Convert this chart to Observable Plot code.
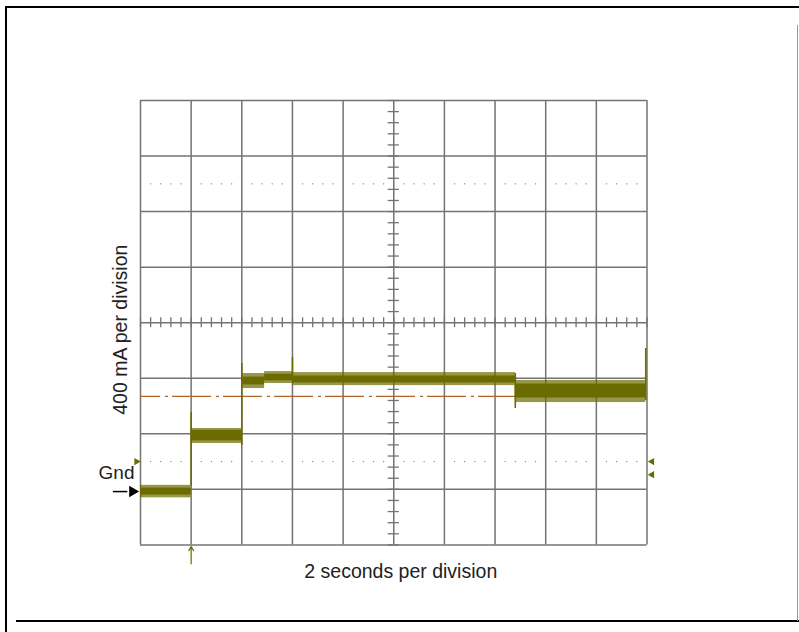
<!DOCTYPE html>
<html><head><meta charset="utf-8">
<script src="https://cdn.jsdelivr.net/npm/d3@7"></script>
<script src="https://cdn.jsdelivr.net/npm/@observablehq/plot@0.6"></script>
<style>
html,body{margin:0;padding:0;background:#fff;}
#wrap{position:relative;width:799px;height:632px;overflow:hidden;}
#wrap svg{position:absolute;left:0;top:0;}
.ln{position:absolute;}
</style></head><body>
<div id="wrap">
 <div class="ln" style="left:5px;top:6px;width:794px;height:2px;background:#000"></div>
 <div class="ln" style="left:5px;top:6px;width:2px;height:626px;background:#000"></div>
 <div class="ln" style="left:16px;top:620px;width:783px;height:2px;background:#000"></div>
 <div class="ln" style="left:797px;top:25px;width:1px;height:596px;background:#999"></div>
</div>
<script>
// ---- data (current in mA, time in s) ----
const segStart = [0, 2, 4, 4.9, 6, 14.8];
const segEnd   = [2, 4, 4.9, 6, 14.8, 19.95];
const coreLo   = [-25, 365, 768, 797, 782, 674];
const coreHi   = [25, 441, 824, 845, 832, 774];
const envLo    = [-45, 346, 742, 778, 763, 641];
const envHi    = [45, 454, 850, 864, 857, 800];
const spikeT   = [2, 4, 6, 14.8, 19.95];
const spikeLo  = [40, 331, 828, 598, 655];
const spikeHi  = [569, 922, 965, 850, 1030];
const refLevel = 686;
const groundLevel = 0;
const triggerTime = 2;
const markerLevels = [216, 122];
const xGrid = [0, 2, 4, 6, 8, 10, 12, 14, 16, 18, 20];
const yGrid = [-384, 16, 416, 816, 1216, 1616, 2016, 2416, 2816];
const dotRows = [2216, 216];
const centerX = 10, centerY = 1216;
const yLabel = "400 mA per division";
const xLabel = "2 seconds per division";
const gndLabel = "Gnd";

const olive = "#6b6b00";
const gridColor = "#737373";
const xMinor = d3.range(0, 51).map(k => k * 0.4);
const yMinor = d3.range(0, 41).map(k => yGrid[0] + k * 80);
const dotTimes = xMinor.filter((t, k) => k % 5 !== 0);
const dots = dotRows.flatMap(y => dotTimes.map(t => ({t, y})));
const segIdx = d3.range(segStart.length);
const font = "'Liberation Sans', Arial, sans-serif";

const chart = Plot.plot({
  width: 799, height: 632,
  marginLeft: 140, marginRight: 152.5, marginTop: 100, marginBottom: 87.6,
  x: {domain: [0, 20], axis: null},
  y: {domain: [yGrid[0], yGrid[yGrid.length - 1]], axis: null},
  style: {fontFamily: font, background: "transparent"},
  marks: [
    Plot.ruleX(xGrid, {stroke: gridColor, strokeWidth: 1.5}),
    Plot.ruleY(yGrid, {stroke: gridColor, strokeWidth: 1.5}),
    Plot.dot(dots, {x: "t", y: "y", r: 0.7, fill: "#777", stroke: null}),
    Plot.ruleX(xMinor, {x: d => d, y1: centerY - 36, y2: centerY + 36, stroke: gridColor, strokeWidth: 1.3}),
    Plot.ruleY(yMinor, {y: d => d, x1: centerX - 0.22, x2: centerX + 0.22, stroke: gridColor, strokeWidth: 1.3}),
    Plot.ruleY([refLevel], {stroke: "#b0652a", strokeWidth: 1.3, strokeDasharray: "39,5,3,4", strokeDashoffset: 19}),
    Plot.rect(segIdx, {x1: i => segStart[i], x2: i => segEnd[i], y1: i => envLo[i], y2: i => envHi[i], fill: olive, fillOpacity: 0.7}),
    Plot.rect(segIdx, {x1: i => segStart[i], x2: i => segEnd[i], y1: i => coreLo[i], y2: i => coreHi[i], fill: olive}),
    Plot.ruleX(d3.range(spikeT.length), {x: i => spikeT[i], y1: i => spikeLo[i], y2: i => spikeHi[i], stroke: olive, strokeWidth: 1.6}),
    // ground marker
    Plot.ruleY([groundLevel], {y: d => d, x1: -1.07, x2: -0.5, stroke: "#000", strokeWidth: 1.5}),
    Plot.dot([groundLevel], {y: d => d, frameAnchor: "left", dx: -8, symbol: "triangle2", rotate: 90, r: 5.5, fill: "#000", stroke: null}),
    Plot.text([gndLabel], {y: groundLevel, frameAnchor: "left", textAnchor: "end", dx: -6, dy: -19, text: d => d, fontSize: 19, fill: "#222"}),
    // channel markers
    Plot.dot([markerLevels[0]], {y: d => d, frameAnchor: "left", dx: -4, symbol: "triangle2", rotate: 90, r: 3.5, fill: olive, stroke: null}),
    Plot.dot(markerLevels, {y: d => d, frameAnchor: "right", dx: 5, symbol: "triangle2", rotate: -90, r: 3.5, fill: olive, stroke: null}),
    // trigger arrow
    Plot.arrow([triggerTime], {x: d => d, y1: -520, y2: -395, stroke: olive, strokeWidth: 1.2, headLength: 6}),
    // axis labels
    Plot.text([yLabel], {frameAnchor: "left", textAnchor: "middle", rotate: -90, dx: -20, dy: 7, text: d => d, fontSize: 19.5, fill: "#222"}),
    Plot.text([xLabel], {frameAnchor: "bottom", textAnchor: "middle", dx: 7, dy: 33, text: d => d, fontSize: 19.5, fill: "#222"})
  ]
});
document.getElementById("wrap").prepend(chart);
</script>
</body></html>
